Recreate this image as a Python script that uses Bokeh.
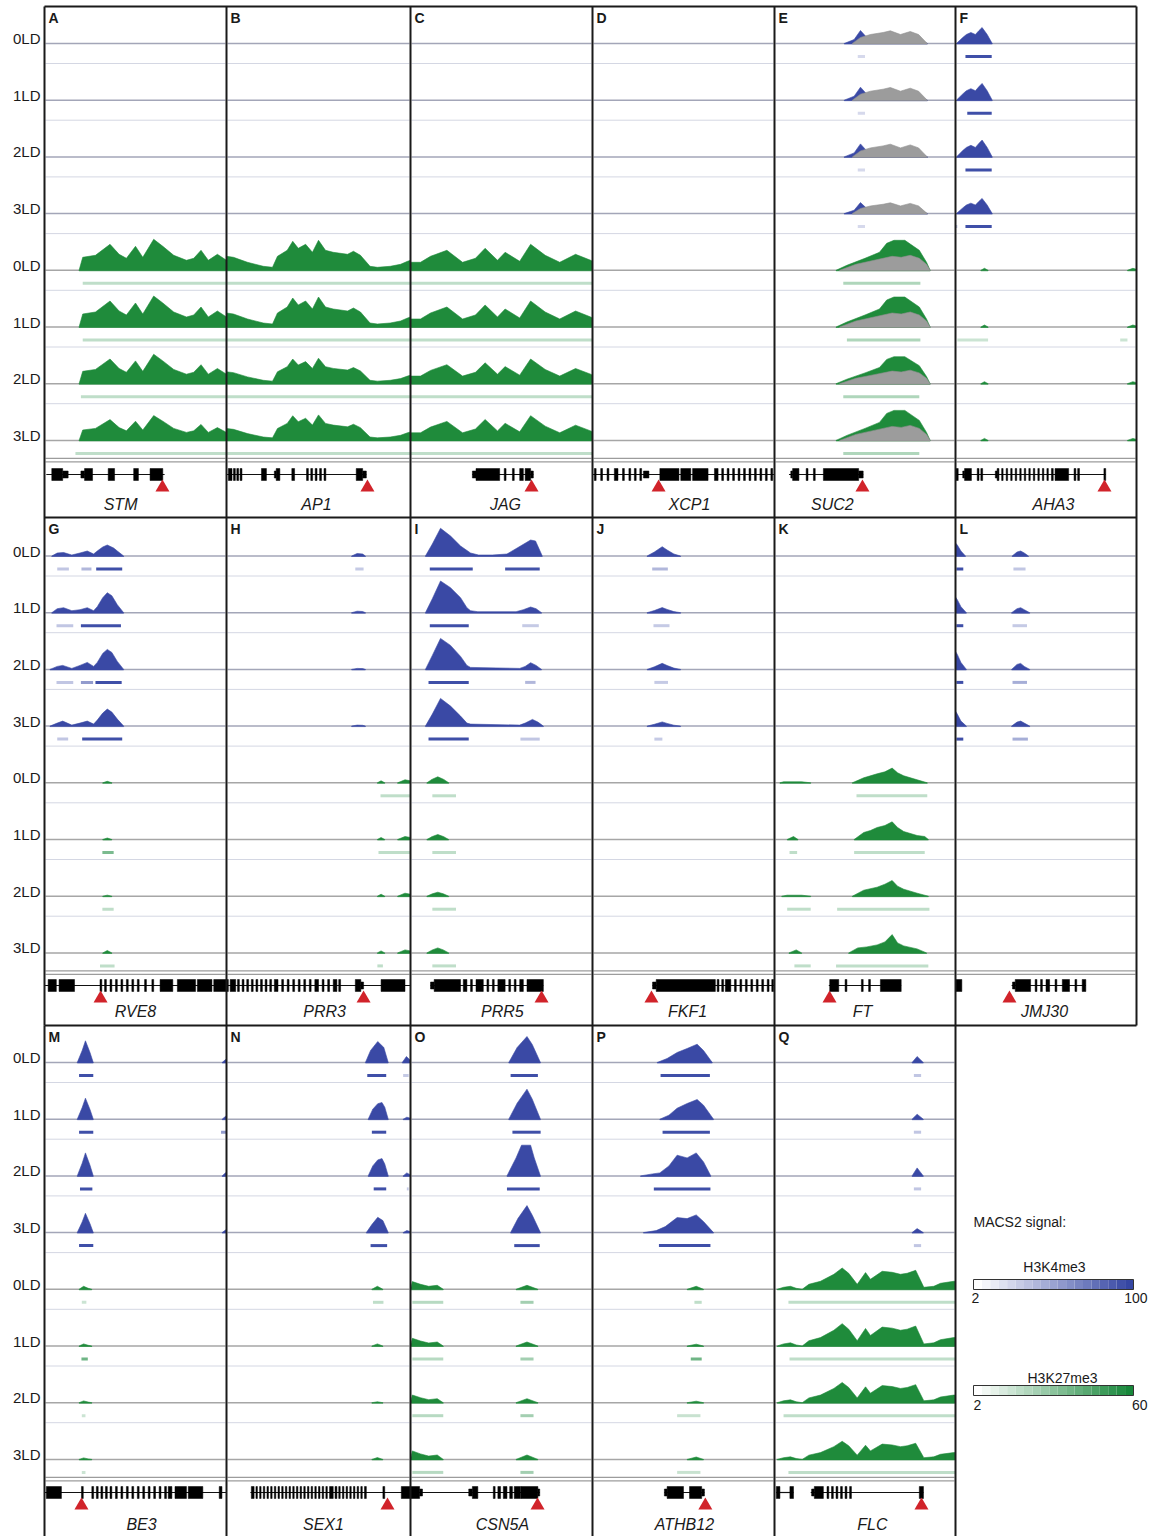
import numpy as np
from bokeh.plotting import figure
from bokeh.models import Range1d, ColumnDataSource
from bokeh.transform import linear_cmap
from bokeh.core.properties import value
from bokeh.embed import file_html
from bokeh.resources import INLINE

# ------------------------------------------------------------------ data
PANEL_LETTERS = list("ABCDEFGHIJKLMNOPQ")
GENE_NAMES = ["STM", "AP1", "JAG", "XCP1", "SUC2", "AHA3",
              "RVE8", "PRR3", "PRR5", "FKF1", "FT", "JMJ30",
              "BE3", "SEX1", "CSN5A", "ATHB12", "FLC"]
TRACK_LABELS = ["0LD", "1LD", "2LD", "3LD", "0LD", "1LD", "2LD", "3LD"]
# TSS arrow and gene-name positions (percent of the window)
ARROW_PCT = [64.8, 76.6, 66.5, 36.3, 48.6, 82.3,
             30.8, 74.5, 72.0, 32.4, 30.4, 29.8,
             20.3, 87.5, 69.8, 62.0, 81.2]
NAME_PCT = [41.8, 48.9, 52.2, 53.3, 32.0, 54.1,
            50.0, 53.3, 50.5, 52.2, 48.6, 49.2,
            53.3, 52.7, 50.5, 50.5, 54.1]

# gene models: (start%, end%, kind) kind 1 = coding exon, 0 = UTR
STM_EXONS = [(4, 10, 1), (10, 13, 0), (20, 22, 0), (22, 26.4, 1), (35, 38.5, 1), (49, 51.6, 1), (58, 65, 1)]
STM_LINE = [(1, 66)]
AP1_EXONS = [(1, 3, 1), (3.8, 4.8, 1), (5.6, 6.6, 1), (7.4, 8.4, 1), (19, 21.7, 1), (26, 27, 0), (27, 29, 1),
             (35.5, 37, 1), (43.5, 44.5, 1), (45.8, 46.8, 1), (48.2, 49.2, 1), (50.6, 51.6, 1), (53, 54, 1),
             (70.5, 74, 1), (74, 76, 0)]
AP1_LINE = [(0, 76)]
JAG_EXONS = [(34, 36, 0), (36, 49, 1), (51.5, 52.5, 1), (56, 57, 1), (60, 62, 1), (63, 66, 1), (66, 67.5, 0)]
JAG_LINE = [(34, 67.5)]
XCP1_EXONS = [(1, 2, 1), (4.5, 5.5, 1), (8, 9, 1), (12, 14, 1), (16.5, 17.5, 1), (20, 21, 1), (23, 24, 1),
              (26, 27, 1), (28, 31, 0), (37, 47.5, 1), (48.5, 54, 1), (55, 63.5, 1), (67, 69, 1), (71, 72, 1),
              (74, 75, 1), (77, 78, 1), (80, 81, 1), (83, 84, 1), (86, 87, 1), (89, 90, 1), (92, 93, 1),
              (95, 96, 1), (98, 99, 1)]
XCP1_LINE = [(0, 100)]
SUC2_EXONS = [(9, 10, 0), (10, 13.5, 1), (17.5, 18.5, 1), (21.5, 22.5, 1), (27, 46.5, 1), (46.5, 49, 0)]
SUC2_LINE = [(8, 49)]
AHA3_EXONS = [(0, 1.5, 1), (4, 5, 0), (5, 8.8, 1), (12, 13, 1), (14, 15, 1), (22, 23, 0), (23, 24, 1),
              (25.5, 26.3, 1), (28, 28.8, 1), (30.5, 31.3, 1), (33, 33.8, 1), (35.5, 36.3, 1), (38, 38.8, 1),
              (40.5, 41.3, 1), (43, 43.8, 1), (45.5, 46.3, 1), (48, 48.8, 1), (50.5, 51.3, 1), (53, 54, 1),
              (55, 62.5, 1), (65.5, 66.5, 1), (67.5, 68.5, 1), (82, 83, 1)]
AHA3_LINE = [(0, 83)]
RVE8_EXONS = [(2, 6.5, 1), (8, 16.5, 1), (30.5, 31.5, 1), (33, 34, 1), (36, 37, 1), (39, 40, 1), (42, 43, 1),
              (45, 46, 1), (48, 49, 1), (51, 52, 1), (55, 56, 1), (59, 60, 1), (63.5, 70.5, 1), (73, 83, 1),
              (84, 92, 1), (93, 100, 1)]
RVE8_LINE = [(0, 100)]
PRR3_EXONS = [(0, 1, 1), (2, 5, 1), (6, 7, 1), (8.5, 9.5, 1), (11, 12, 1), (13.5, 14.5, 1), (16, 17, 1),
              (18.5, 19.5, 1), (21, 22, 1), (23.5, 24.5, 1), (26, 28, 1), (30, 31, 1), (33, 34, 1), (36, 37, 1),
              (39, 40, 1), (42, 43, 1), (45, 46, 1), (48, 50, 1), (52, 53, 1), (55, 56, 1), (58, 60, 1),
              (61, 62, 1), (70, 73, 1), (73, 74.5, 0), (84, 97, 1)]
PRR3_LINE = [(0, 100)]
PRR5_EXONS = [(11, 13, 0), (13, 27.5, 1), (29, 31, 1), (33, 34, 1), (36, 40, 1), (42, 43, 1), (45, 46, 1),
              (48, 52, 1), (54, 55, 1), (57, 58, 1), (60, 62, 1), (64, 73, 1)]
PRR5_LINE = [(11, 73)]
FKF1_EXONS = [(33, 35, 0), (35, 67.5, 1), (68.5, 69.5, 1), (71, 72, 1), (73, 76, 1), (78, 79, 1), (81, 82, 1),
              (84, 85, 1), (87, 88, 1), (90, 91, 1), (93, 94, 1), (96, 97, 1), (98.5, 99.5, 1)]
FKF1_LINE = [(33, 100)]
FT_EXONS = [(30.5, 35.5, 1), (39, 40, 1), (48, 49, 1), (52, 53, 1), (58.5, 70, 1)]
FT_LINE = [(30, 70)]
JMJ30_EXONS = [(0, 3.5, 1), (31.5, 33, 0), (33, 41.5, 1), (44, 45, 1), (47, 48, 1), (50, 52, 1), (55, 56, 1),
               (59, 63, 1), (66, 67, 1), (70, 72, 1)]
JMJ30_LINE = [(31, 72)]
BE3_EXONS = [(1, 9.3, 1), (20.3, 21.3, 1), (26, 27, 1), (28.5, 29.5, 1), (31, 32, 1), (33.5, 34.5, 1), (36, 37, 1),
             (39, 40, 1), (42, 43, 1), (45, 46, 1), (48, 49, 1), (51, 52, 1), (54, 55, 1), (57, 58, 1),
             (60, 61, 1), (63, 64, 1), (66, 67, 1), (68, 70, 1), (71.7, 78, 1), (79, 87, 1), (96, 97.5, 1)]
BE3_LINE = [(0, 100)]
SEX1_EXONS = [(13.5, 15, 1), (16, 16.8, 1), (18, 18.8, 1), (20, 20.8, 1), (22, 22.8, 1), (24, 24.8, 1),
              (26, 26.8, 1), (28, 28.8, 1), (30, 30.8, 1), (32, 32.8, 1), (34, 34.8, 1), (36, 36.8, 1),
              (38, 38.8, 1), (40, 40.8, 1), (42, 42.8, 1), (44, 44.8, 1), (46, 46.8, 1), (48, 48.8, 1),
              (50, 50.8, 1), (52, 52.8, 1), (54, 54.8, 1), (56, 58, 1), (59, 60, 1), (61, 61.8, 1),
              (63, 63.8, 1), (65, 65.8, 1), (67, 67.8, 1), (69, 69.8, 1), (71, 71.8, 1), (73, 73.8, 1),
              (75, 76, 1), (85, 86, 1), (95, 100, 1)]
SEX1_LINE = [(13, 100)]
CSN5A_EXONS = [(0, 5, 1), (5, 6.6, 0), (32, 34, 0), (34, 37, 1), (45.5, 46.5, 1), (48, 49.5, 1), (51, 53, 1),
               (54.5, 56, 1), (57, 60.5, 1), (60.7, 70, 1), (70, 71, 0)]
CSN5A_LINE = [(0, 71)]
ATHB12_EXONS = [(39.5, 41, 0), (41, 50, 1), (53.3, 60, 1), (60, 61.5, 0)]
ATHB12_LINE = [(39.5, 61.5)]
FLC_EXONS = [(1, 3, 1), (8.5, 10.5, 1), (20.5, 22, 0), (22, 27, 1), (29, 30, 1), (31.5, 32.5, 1), (34, 35, 1),
             (36.5, 37.5, 1), (39, 40, 1), (41.5, 42.5, 1), (80, 82.3, 1)]
FLC_LINE = [(1, 10.5), (20, 82.3)]

# signal profiles: (position %, signal height) vertices, one list per peak
A_K27_SHAPE = [[(19, 0), (21, 13), (28, 15), (36, 26), (41, 16), (45, 12), (50, 24), (54, 13), (60, 31), (65, 24),
                (71, 15), (78, 10), (82, 12), (86, 20), (90, 10), (95, 16), (100, 10)]]
A_K27_SCALE = [1.0, 1.0, 0.95, 0.8]
B_K27_SHAPE = [[(0, 14), (3.8, 13), (11.4, 8), (20, 4), (25, 3), (27.7, 14), (33, 20), (36, 29), (39, 22),
                (43, 26), (46.7, 18), (50, 30), (53.8, 20), (58, 18), (65.8, 16), (69, 19), (72.8, 15), (78, 4),
                (82, 3), (89, 4), (94.6, 6), (98.4, 9), (100, 10)]]
B_K27_SCALE = [1.0, 1.0, 0.85, 0.85]
C_K27_SHAPE = [[(0, 8), (5.5, 8), (11, 14), (20, 20), (28.6, 8), (35.7, 12), (41, 22), (47.8, 10), (52, 18),
                (60, 9), (66, 26), (74, 15), (82, 8), (90.7, 16), (99, 10), (100, 9)]]
C_K27_SCALE = [1.0, 1.0, 0.95, 0.95]
E_K4_SHAPE = [[(38.5, 0), (44, 4), (47.5, 13), (51, 6), (55, 4), (70, 4), (80, 4), (84.5, 0)]]
E_K4_SCALE = [1.0, 1.0, 1.0, 0.85]
E_K4_GREY = [[(43, 0), (47.5, 6), (53, 9), (60, 11), (64, 12.7), (69.6, 9), (75, 12), (79.6, 9), (84.4, 0)]]
E_K27_SHAPE = [[(34, 0), (40, 5), (50, 12), (58, 18), (62, 27), (66, 30), (72, 30), (76, 25), (80, 20), (84, 8), (86, 0)]]
E_K27_SCALE = [1.0, 1.0, 0.9, 1.0]
E_K27_GREY = [[(36, 0), (45, 6), (55, 10), (65, 14), (70, 13), (75, 15), (80, 12), (84, 6), (86, 0)]]
F_K4_SHAPE = [[(0.5, 0), (4, 6), (6, 9), (8.5, 11), (11, 9), (13, 13), (14.7, 16), (17.5, 9), (20.3, 0)]]
F_K4_SCALE = [1.0, 1.05, 1.05, 0.95]
F_K27_SHAPE = [[(14, 0), (16, 2), (18, 0)], [(95, 0), (98, 2), (100, 1)]]
F_K27_SCALE = [1.0, 1.0, 1.0, 1.0]
G_K4 = [
    [[(4, 0), (7, 3), (10.5, 3.5), (15, 1), (19.5, 3), (23.5, 5), (27, 2), (29, 5), (32, 9), (34.5, 11), (38, 8), (40, 5), (43.5, 0)]],
    [[(4, 0), (7, 4), (10.5, 5), (15, 2), (19.5, 3), (23.5, 5), (27, 2), (29, 6), (32, 15), (34.5, 20), (37, 17), (40, 8), (43.5, 0)]],
    [[(3, 0), (7, 3), (10, 4), (15, 1), (19.5, 4), (23.5, 7), (27, 3), (29, 7), (32, 16), (34.5, 20), (37, 17), (40, 8), (43.5, 0)]],
    [[(3, 0), (7, 3), (10, 5), (15, 1), (19.5, 3), (23.5, 5), (27, 2), (29, 6), (32, 13), (34.5, 17), (37, 14), (40, 7), (43.5, 0)]],
]
G_K27_SHAPE = [[(32, 0), (34.5, 1.5), (37, 0)]]
G_K27_SCALE = [1.0, 1.0, 0.7, 1.6]
H_K4_SHAPE = [[(68, 0), (71, 2.5), (74, 2), (75.5, 0)]]
H_K4_SCALE = [1.0, 0.6, 0.4, 0.4]
H_K27_SHAPE = [[(82, 0), (84, 2), (86, 0)], [(93, 0), (97, 3), (100, 2)]]
H_K27_SCALE = [1.0, 1.0, 1.0, 1.0]
I_K4 = [
    [[(8.2, 0), (12, 12), (16.5, 27.7), (22, 20), (27.5, 10), (33, 3), (37.4, 1), (45, 1), (53, 2), (58.6, 8), (66, 16), (68.7, 15), (72.4, 0)]],
    [[(8.2, 0), (12, 14), (16.5, 31.7), (22, 25), (27.5, 15), (31, 5), (33, 2), (37, 1), (58, 1), (62, 3), (66, 5.7), (69, 4), (72, 0)]],
    [[(8.2, 0), (12, 14), (16.5, 31), (22, 24), (27.5, 13), (31, 4), (33, 2), (60, 1), (63, 3), (66, 6.7), (69, 4), (72, 0)]],
    [[(8.2, 0), (12, 12), (16.5, 27.7), (22, 20), (27.5, 10), (31, 3), (33, 2), (60, 1), (63, 3), (67, 6.7), (70, 4), (73, 0)]],
]
I_K27_SHAPE = [[(9, 0), (12, 3), (15, 5), (18, 3), (21, 0)]]
I_K27_SCALE = [1.2, 1.0, 0.8, 1.0]
J_K4_SHAPE = [[(30, 0), (34, 4), (38.3, 9.3), (41, 6), (44.7, 2), (48.4, 0)]]
J_K4_SCALE = [1.0, 0.55, 0.65, 0.45]
K_K27 = [
    [[(3, 0), (5, 1), (15, 1), (20, 0)], [(43, 0), (49.3, 5), (56.7, 9), (61, 11), (65, 14.7), (68, 10), (71.4, 7), (78.8, 3), (84.4, 0)]],
    [[(7, 0), (10.5, 3), (13, 0)], [(44, 0), (49.3, 7), (53, 9), (56.7, 12), (61, 14), (65, 17.7), (68, 12), (71.4, 8), (78.8, 4), (83, 3), (85, 0)]],
    [[(4, 0), (7, 1), (15, 1), (20, 0)], [(43, 0), (49.3, 6), (56.7, 9), (61, 12), (65, 15.7), (68, 10), (71.4, 7), (78.8, 3), (85, 0)]],
    [[(8, 0), (12, 3), (15, 0)], [(41, 0), (46, 5), (51, 6), (56.7, 8), (61, 11), (65, 18.3), (68, 10), (71.4, 7), (78.8, 4), (84, 0)]],
]
L_K4 = [
    [[(0, 13), (1, 11), (3, 5), (5.5, 0)], [(31.3, 0), (34, 4), (36, 5), (38, 3), (40.3, 0)]],
    [[(0, 15.7), (1, 13), (3, 6), (6, 0)], [(31, 0), (34, 4), (36, 5), (38, 3), (41, 0)]],
    [[(0, 18), (1, 15), (3, 7), (6, 0)], [(31, 0), (34, 5), (36, 6), (38, 3), (41, 0)]],
    [[(0, 15), (1, 12), (3, 5), (6, 0)], [(31, 0), (34, 4), (36, 5), (38, 3), (41, 0)]],
]
M_K4_SHAPE = [[(18, 0), (20.7, 12), (22.5, 21.7), (25, 10), (26.8, 0)], [(97.6, 0), (99.5, 3), (100, 3)]]
M_K4_SCALE = [1.0, 0.97, 1.06, 0.89]
M_K27_SHAPE = [[(19, 0), (21.5, 3), (24, 1), (26, 0)]]
M_K27_SCALE = [1.0, 0.7, 0.6, 0.5]
N_K4 = [
    [[(75.5, 0), (78.3, 12), (82.2, 21), (85.5, 15), (87.9, 0)], [(95.5, 0), (97.8, 6), (100, 2)]],
    [[(77, 0), (79.5, 10), (82.2, 15.5), (84.5, 16.7), (86, 12), (87.9, 0)], [(96, 0), (98, 2), (100, 1)]],
    [[(77, 0), (79.5, 10), (82.2, 16), (84.5, 17.3), (86, 12), (87.9, 0)], [(96, 0), (98, 3), (100, 1)]],
    [[(76, 0), (79, 8), (82.2, 15.3), (85, 12), (87.9, 0)], [(96, 0), (98, 2), (100, 1)]],
]
N_K27_SHAPE = [[(79, 0), (82, 3), (85, 0)]]
N_K27_SCALE = [1.0, 0.7, 0.3, 0.6]
O_K4 = [
    [[(54, 0), (58.6, 15), (64, 26), (66.9, 18), (71.4, 0)]],
    [[(54, 0), (58.6, 16), (64, 30), (66.9, 20), (71.4, 0)]],
    [[(53, 0), (58, 18), (61, 30.7), (66, 30.7), (68, 18), (71.4, 0)]],
    [[(55, 0), (59, 14), (64, 27), (67, 17), (71.4, 0)]],
]
O_K27_SHAPE = [[(0, 0), (1, 7.7), (5.5, 5), (10, 3), (14.7, 4), (18, 0)], [(58, 0), (64, 4), (70, 0)]]
O_K27_SCALE = [1.0, 1.0, 1.0, 1.1]
P_K4 = [
    [[(35.5, 0), (41, 4), (46.5, 10), (52, 14), (57.5, 18.3), (61, 12), (65.8, 0)]],
    [[(37, 0), (42, 4), (46.5, 11), (52, 15.7), (57.5, 19.7), (61, 14), (66.5, 0)]],
    [[(26.4, 0), (33, 2), (37, 3), (42, 10), (46.5, 20.7), (52, 18), (57, 23), (61, 14), (65, 0)]],
    [[(28, 0), (35, 2), (40, 6), (46.5, 15), (52, 14), (57, 17.7), (61, 11), (66.5, 0)]],
]
P_K27_SHAPE = [[(52, 0), (57, 3), (61, 0)]]
P_K27_SCALE = [1.0, 0.6, 0.5, 0.8]
Q_K4_SHAPE = [[(76, 0), (78.8, 6), (82.2, 0)]]
Q_K4_SCALE = [1.0, 0.83, 1.33, 0.67]
Q_K27_SHAPE = [[(1.5, 0), (5, 2), (8.8, 3), (12, 1), (15.3, 0), (19, 5), (25.4, 8), (32.8, 15), (37.4, 21.3),
                (41, 16), (45.7, 5), (50.3, 16.7), (53, 10), (59.5, 18), (65, 17), (69.6, 15), (73.3, 16),
                (78, 19), (82.5, 2), (88, 3), (91.7, 6), (99, 8), (100, 8)]]
Q_K27_SCALE = [1.0, 1.05, 0.95, 0.85]

# called peaks: (start %, end %, MACS2 signal) per time point
E_K4_BARS = [[(46, 50, 22)]] * 4
E_K27_BARS = [[(38, 80.6, 22)], [(40, 80.6, 22)], [(38, 80, 22)], [(38, 80, 22)]]
A_K27_BARS = [[(21, 100, 18)], [(21, 100, 18)], [(20, 100, 18)], [(17, 100, 18)]]
B_K27_BARS = [[(0, 100, 18)]] * 4
C_K27_BARS = [[(0, 100, 18)]] * 4
F_K4_BARS = [[(5.5, 20, 95)], [(6.5, 20, 95)], [(5.5, 20, 95)], [(0, 1, 35), (5.5, 20, 95)]]
F_K27_BARS = [[], [(1, 18, 15), (91, 95, 15)], [], []]
G_K4_BARS = [[(7, 13.4, 32), (20.3, 25.8, 40), (28.4, 42.7, 95)], [(6.6, 15.8, 32), (20, 42, 95)],
             [(6.6, 15.8, 32), (20, 26.7, 55), (28, 42.4, 95)], [(7, 13, 32), (20.7, 42.7, 95)]]
G_K27_BARS = [[], [(31.8, 38, 35)], [(31.8, 38, 18)], [(30.5, 38.5, 18)]]
H_K4_BARS = [[(70, 74.5, 30)], [], [], []]
H_K27_BARS = [[(83.7, 100, 18)], [(82.6, 100, 18)], [], [(82, 85, 18)]]
I_K4_BARS = [[(10.6, 34.2, 95), (52, 71, 93)], [(10.6, 32, 95), (61.4, 70.5, 30)],
             [(9.9, 32, 95), (63, 68.7, 40)], [(9.9, 32, 95), (60.4, 71, 32)]]
I_K27_BARS = [[(12, 25, 18)]] * 4
J_K4_BARS = [[(32.8, 41.4, 40)], [(33.5, 42.3, 30)], [(34, 41.5, 30)], [(34, 38.4, 30)]]
K_K27_BARS = [[(45.3, 84.4, 18)], [(8.3, 12.5, 18), (44, 83, 18)], [(7, 20, 18), (34.6, 85.6, 18)],
              [(11, 20, 18), (34, 85, 18)]]
L_K4_BARS = [[(0.5, 4.3, 95), (32, 38.7, 32)], [(0.5, 4.3, 95), (31.5, 39.5, 30)],
             [(0.5, 4.3, 95), (31.5, 39.5, 45)], [(0.5, 4.3, 95), (31.5, 40, 45)]]
M_K4_BARS = [[(19, 26.8, 95)], [(19, 26.8, 95), (97, 100, 55)], [(19.5, 26.3, 95)], [(19, 26.8, 95)]]
M_K27_BARS = [[(20.5, 23, 15)], [(20.3, 23.8, 38)], [(20.5, 22.5, 15)], [(20.5, 22.5, 15)]]
N_K4_BARS = [[(76.5, 86.8, 95), (96, 99, 30)], [(79, 86.8, 95)], [(80, 86.8, 95), (98, 99, 30)], [(78.3, 87.3, 95)]]
N_K27_BARS = [[(79.6, 85.3, 18)], [], [], []]
O_K4_BARS = [[(55, 70, 95)], [(56, 71.5, 95)], [(53, 71, 95)], [(57, 71, 95)]]
O_K27_BARS = [[(1, 18, 20), (60.4, 67.6, 25)]] * 4
P_K4_BARS = [[(37.4, 64.5, 95)], [(38.5, 64.5, 95)], [(33.7, 64.8, 95)], [(36.5, 64.8, 95)]]
P_K27_BARS = [[(56, 60, 18)], [(54, 60, 38)], [(46.5, 59.3, 16)], [(46.5, 59.3, 16)]]
Q_K4_BARS = [[(77, 81, 32)]] * 4
Q_K27_BARS = [[(7.7, 100, 18)], [(8.3, 100, 18)], [(5, 100, 18)], [(7.7, 100, 18)]]

K4_RANGE = (2, 100)
K27_RANGE = (2, 60)

# ------------------------------------------------------------------ assembly
NONE4 = [[], [], [], []]


def same(shape, scales):
    return [[[(x, h * s) for (x, h) in seg] for seg in shape] for s in scales]


K4_PROFILES = [NONE4, NONE4, NONE4, NONE4, same(E_K4_SHAPE, E_K4_SCALE), same(F_K4_SHAPE, F_K4_SCALE),
               G_K4, same(H_K4_SHAPE, H_K4_SCALE), I_K4, same(J_K4_SHAPE, J_K4_SCALE), NONE4, L_K4,
               same(M_K4_SHAPE, M_K4_SCALE), N_K4, O_K4, P_K4, same(Q_K4_SHAPE, Q_K4_SCALE)]
K27_PROFILES = [same(A_K27_SHAPE, A_K27_SCALE), same(B_K27_SHAPE, B_K27_SCALE), same(C_K27_SHAPE, C_K27_SCALE),
                NONE4, same(E_K27_SHAPE, E_K27_SCALE), same(F_K27_SHAPE, F_K27_SCALE),
                same(G_K27_SHAPE, G_K27_SCALE), same(H_K27_SHAPE, H_K27_SCALE), same(I_K27_SHAPE, I_K27_SCALE),
                NONE4, K_K27, NONE4, same(M_K27_SHAPE, M_K27_SCALE), same(N_K27_SHAPE, N_K27_SCALE),
                same(O_K27_SHAPE, O_K27_SCALE), same(P_K27_SHAPE, P_K27_SCALE), same(Q_K27_SHAPE, Q_K27_SCALE)]
GREY_PROFILES = {4: (same(E_K4_GREY, E_K4_SCALE), same(E_K27_GREY, E_K27_SCALE))}
K4_BARS = [NONE4, NONE4, NONE4, NONE4, E_K4_BARS, F_K4_BARS, G_K4_BARS, H_K4_BARS, I_K4_BARS, J_K4_BARS,
           NONE4, L_K4_BARS, M_K4_BARS, N_K4_BARS, O_K4_BARS, P_K4_BARS, Q_K4_BARS]
K27_BARS = [A_K27_BARS, B_K27_BARS, C_K27_BARS, NONE4, E_K27_BARS, F_K27_BARS, G_K27_BARS, H_K27_BARS,
            I_K27_BARS, NONE4, K_K27_BARS, NONE4, M_K27_BARS, N_K27_BARS, O_K27_BARS, P_K27_BARS, Q_K27_BARS]
EXONS = [STM_EXONS, AP1_EXONS, JAG_EXONS, XCP1_EXONS, SUC2_EXONS, AHA3_EXONS, RVE8_EXONS, PRR3_EXONS,
         PRR5_EXONS, FKF1_EXONS, FT_EXONS, JMJ30_EXONS, BE3_EXONS, SEX1_EXONS, CSN5A_EXONS, ATHB12_EXONS,
         FLC_EXONS]
INTRONS = [STM_LINE, AP1_LINE, JAG_LINE, XCP1_LINE, SUC2_LINE, AHA3_LINE, RVE8_LINE, PRR3_LINE, PRR5_LINE,
           FKF1_LINE, FT_LINE, JMJ30_LINE, BE3_LINE, SEX1_LINE, CSN5A_LINE, ATHB12_LINE, FLC_LINE]

# ------------------------------------------------------------------ layout / style
COLS = [44, 226, 410, 592, 774, 955, 1136]
ROW_TOPS = [6, 517, 1025]
BASE_OFF = [37, 38.5, 37]
STEP = 56.7
GENE_Y = [474, 985, 1492]
ARROW_Y = [487, 998, 1505]
NAME_Y = [504, 1011, 1524]
BLUE = "#3a49a5"
GREEN = "#1f8b3b"
FONT = value("Liberation Sans")


def ramp(hexcol, n=256):
    r, g, b = int(hexcol[1:3], 16), int(hexcol[3:5], 16), int(hexcol[5:7], 16)
    out = []
    for t in np.linspace(0, 1, n):
        out.append("#%02x%02x%02x" % (round(255 + (r - 255) * t), round(255 + (g - 255) * t),
                                      round(255 + (b - 255) * t)))
    return out


BLUE_PAL = ramp("#3546a3")
GREEN_PAL = ramp("#17873a")

p = figure(width=1152, height=1536, x_range=Range1d(0, 1152), y_range=Range1d(1536, 0),
           output_backend="svg", toolbar_location=None, x_axis_location=None, y_axis_location=None,
           min_border=0)
p.outline_line_color = None
p.grid.visible = False
p.background_fill_color = "white"

sep = dict(x0=[], y0=[], x1=[], y1=[])
base_b = dict(x0=[], y0=[], x1=[], y1=[])
base_g = dict(x0=[], y0=[], x1=[], y1=[])
dbl = dict(x0=[], y0=[], x1=[], y1=[])
blue_xs, blue_ys, green_xs, green_ys, grey_xs, grey_ys = [], [], [], [], [], []
bars_b = dict(x0=[], x1=[], y=[], sig=[])
bars_g = dict(x0=[], x1=[], y=[], sig=[])
ex = dict(left=[], right=[], top=[], bottom=[])
intr = dict(x0=[], y0=[], x1=[], y1=[])
arrows = dict(x=[], y=[])
names = dict(x=[], y=[], t=[])
letters = dict(x=[], y=[], t=[])
labels = dict(x=[], y=[], t=[])


def add_poly(xs_list, ys_list, seg, X, base):
    xs = [X(seg[0][0])] + [X(a) for a, _ in seg] + [X(seg[-1][0])]
    ys = [base + 0.5] + [base - h for _, h in seg] + [base + 0.5]
    xs_list.append(xs)
    ys_list.append(ys)


for i, letter in enumerate(PANEL_LETTERS):
    r, c = divmod(i, 6)
    x0, x1 = COLS[c], COLS[c + 1]
    W = x1 - x0
    X = (lambda a, x0=x0, W=W: x0 + a / 100.0 * W)
    letters["x"].append(x0 + 4)
    letters["y"].append(ROW_TOPS[r] + 11)
    letters["t"].append(letter)
    for k in range(8):
        base = ROW_TOPS[r] + BASE_OFF[r] + STEP * k
        if c == 0:
            labels["x"].append(40)
            labels["y"].append(base - 5)
            labels["t"].append(TRACK_LABELS[k])
        tgt = base_b if k < 4 else base_g
        tgt["x0"].append(x0 + 1); tgt["x1"].append(x1 - 1); tgt["y0"].append(base); tgt["y1"].append(base)
        if k < 7:
            sep["x0"].append(x0 + 1); sep["x1"].append(x1 - 1)
            sep["y0"].append(base + 20); sep["y1"].append(base + 20)
        else:
            for off in (18, 21.5):
                dbl["x0"].append(x0 + 1); dbl["x1"].append(x1 - 1)
                dbl["y0"].append(base + off); dbl["y1"].append(base + off)
        lt = k % 4
        if k < 4:
            prof, bars, bx, by, bd = K4_PROFILES[i][lt], K4_BARS[i][lt], blue_xs, blue_ys, bars_b
        else:
            prof, bars, bx, by, bd = K27_PROFILES[i][lt], K27_BARS[i][lt], green_xs, green_ys, bars_g
        for seg in prof:
            add_poly(bx, by, seg, X, base)
        if i in GREY_PROFILES:
            for seg in GREY_PROFILES[i][0 if k < 4 else 1][lt]:
                add_poly(grey_xs, grey_ys, seg, X, base)
        for (s, e, v) in bars:
            bd["x0"].append(X(s)); bd["x1"].append(X(e)); bd["y"].append(base + 13); bd["sig"].append(v)
    gy = GENE_Y[r]
    for (s, e) in INTRONS[i]:
        intr["x0"].append(X(s)); intr["x1"].append(X(e)); intr["y0"].append(gy); intr["y1"].append(gy)
    for (s, e, kind) in EXONS[i]:
        hh = 6 if kind == 1 else 3.5
        ex["left"].append(X(s)); ex["right"].append(X(e)); ex["top"].append(gy - hh); ex["bottom"].append(gy + hh)
    arrows["x"].append(X(ARROW_PCT[i])); arrows["y"].append(ARROW_Y[r])
    names["x"].append(X(NAME_PCT[i])); names["y"].append(NAME_Y[r]); names["t"].append(GENE_NAMES[i])

# track separators and baselines
p.segment(x0="x0", y0="y0", x1="x1", y1="y1", source=ColumnDataSource(sep), line_color="#d4d7e3", line_width=1)
p.segment(x0="x0", y0="y0", x1="x1", y1="y1", source=ColumnDataSource(dbl), line_color="#9c9c9c", line_width=1.3)
p.segment(x0="x0", y0="y0", x1="x1", y1="y1", source=ColumnDataSource(base_b), line_color="#a3a6b8", line_width=1.5)
p.segment(x0="x0", y0="y0", x1="x1", y1="y1", source=ColumnDataSource(base_g), line_color="#a6a6a6", line_width=1.5)

# signal areas
p.patches(blue_xs, blue_ys, fill_color=BLUE, line_color=BLUE, line_width=0.6)
p.patches(green_xs, green_ys, fill_color=GREEN, line_color=GREEN, line_width=0.6)
p.patches(grey_xs, grey_ys, fill_color="#9c9c9c", line_color="#8f8f8f", line_width=0.6)

# called peaks, coloured by MACS2 signal
p.segment(x0="x0", y0="y", x1="x1", y1="y", source=ColumnDataSource(bars_b), line_width=3,
          line_color=linear_cmap("sig", BLUE_PAL, K4_RANGE[0], K4_RANGE[1]))
p.segment(x0="x0", y0="y", x1="x1", y1="y", source=ColumnDataSource(bars_g), line_width=3,
          line_color=linear_cmap("sig", GREEN_PAL, K27_RANGE[0], K27_RANGE[1]))

# gene models
p.segment(x0="x0", y0="y0", x1="x1", y1="y1", source=ColumnDataSource(intr), line_color="#111111", line_width=1.2)
p.quad(left="left", right="right", top="top", bottom="bottom", source=ColumnDataSource(ex),
       fill_color="black", line_color="black", line_width=0.5)
p.scatter(x="x", y="y", source=ColumnDataSource(arrows), marker="triangle", size=14,
          fill_color="#d1232a", line_color=None)

# frame
frame = dict(x0=[], y0=[], x1=[], y1=[])
for yy in ROW_TOPS:
    frame["x0"].append(COLS[0]); frame["x1"].append(COLS[-1]); frame["y0"].append(yy); frame["y1"].append(yy)
for cx in COLS:
    frame["x0"].append(cx); frame["x1"].append(cx); frame["y0"].append(ROW_TOPS[0]); frame["y1"].append(ROW_TOPS[2])
for cx in COLS[:6]:
    frame["x0"].append(cx); frame["x1"].append(cx); frame["y0"].append(ROW_TOPS[2]); frame["y1"].append(1540)
p.segment(x0="x0", y0="y0", x1="x1", y1="y1", source=ColumnDataSource(frame), line_color="#1a1a1a", line_width=2)

# texts
p.text(x="x", y="y", text="t", source=ColumnDataSource(labels), text_font=FONT, text_font_size=value("15px"),
       text_align="right", text_baseline="middle", text_color="#1a1a1a")
p.text(x="x", y="y", text="t", source=ColumnDataSource(letters), text_font=FONT, text_font_size=value("14px"),
       text_font_style="bold", text_align="left", text_baseline="middle", text_color="#1a1a1a")
p.text(x="x", y="y", text="t", source=ColumnDataSource(names), text_font=FONT, text_font_size=value("16px"),
       text_font_style="italic", text_align="center", text_baseline="middle", text_color="#1a1a1a")

# legend
LEG_X0, LEG_X1 = 973, 1133
leg_vals_b = list(np.linspace(K4_RANGE[0], K4_RANGE[1], 19))
leg_vals_g = list(np.linspace(K27_RANGE[0], K27_RANGE[1], 19))
bw = (LEG_X1 - LEG_X0) / 19.0
lb = dict(left=[LEG_X0 + j * bw for j in range(19)], right=[LEG_X0 + (j + 1) * bw for j in range(19)],
          top=[1279] * 19, bottom=[1289] * 19, v=leg_vals_b)
lg = dict(left=[LEG_X0 + j * bw for j in range(19)], right=[LEG_X0 + (j + 1) * bw for j in range(19)],
          top=[1385] * 19, bottom=[1395] * 19, v=leg_vals_g)
p.quad(left="left", right="right", top="top", bottom="bottom", source=ColumnDataSource(lb), line_color=None,
       fill_color=linear_cmap("v", BLUE_PAL, K4_RANGE[0], K4_RANGE[1]))
p.quad(left="left", right="right", top="top", bottom="bottom", source=ColumnDataSource(lg), line_color=None,
       fill_color=linear_cmap("v", GREEN_PAL, K27_RANGE[0], K27_RANGE[1]))
p.quad(left=[LEG_X0, LEG_X0], right=[LEG_X1, LEG_X1], top=[1279, 1385], bottom=[1289, 1395],
       fill_color=None, line_color="#333333", line_width=1)
p.text(x=[973], y=[1221], text=["MACS2 signal:"], text_font=FONT, text_font_size=value("14px"),
       text_align="left", text_baseline="middle", text_color="#1a1a1a")
p.text(x=[1054, 1062], y=[1266, 1377], text=["H3K4me3", "H3K27me3"], text_font=FONT,
       text_font_size=value("14px"), text_align="center", text_baseline="middle", text_color="#1a1a1a")
p.text(x=[975, 977], y=[1297, 1404], text=[str(K4_RANGE[0]), str(K27_RANGE[0])], text_font=FONT,
       text_font_size=value("14px"), text_align="center", text_baseline="middle", text_color="#1a1a1a")
p.text(x=[1147, 1147], y=[1297, 1404], text=[str(K4_RANGE[1]), str(K27_RANGE[1])], text_font=FONT,
       text_font_size=value("14px"), text_align="right", text_baseline="middle", text_color="#1a1a1a")

open("out.html", "w").write(file_html(p, INLINE))
